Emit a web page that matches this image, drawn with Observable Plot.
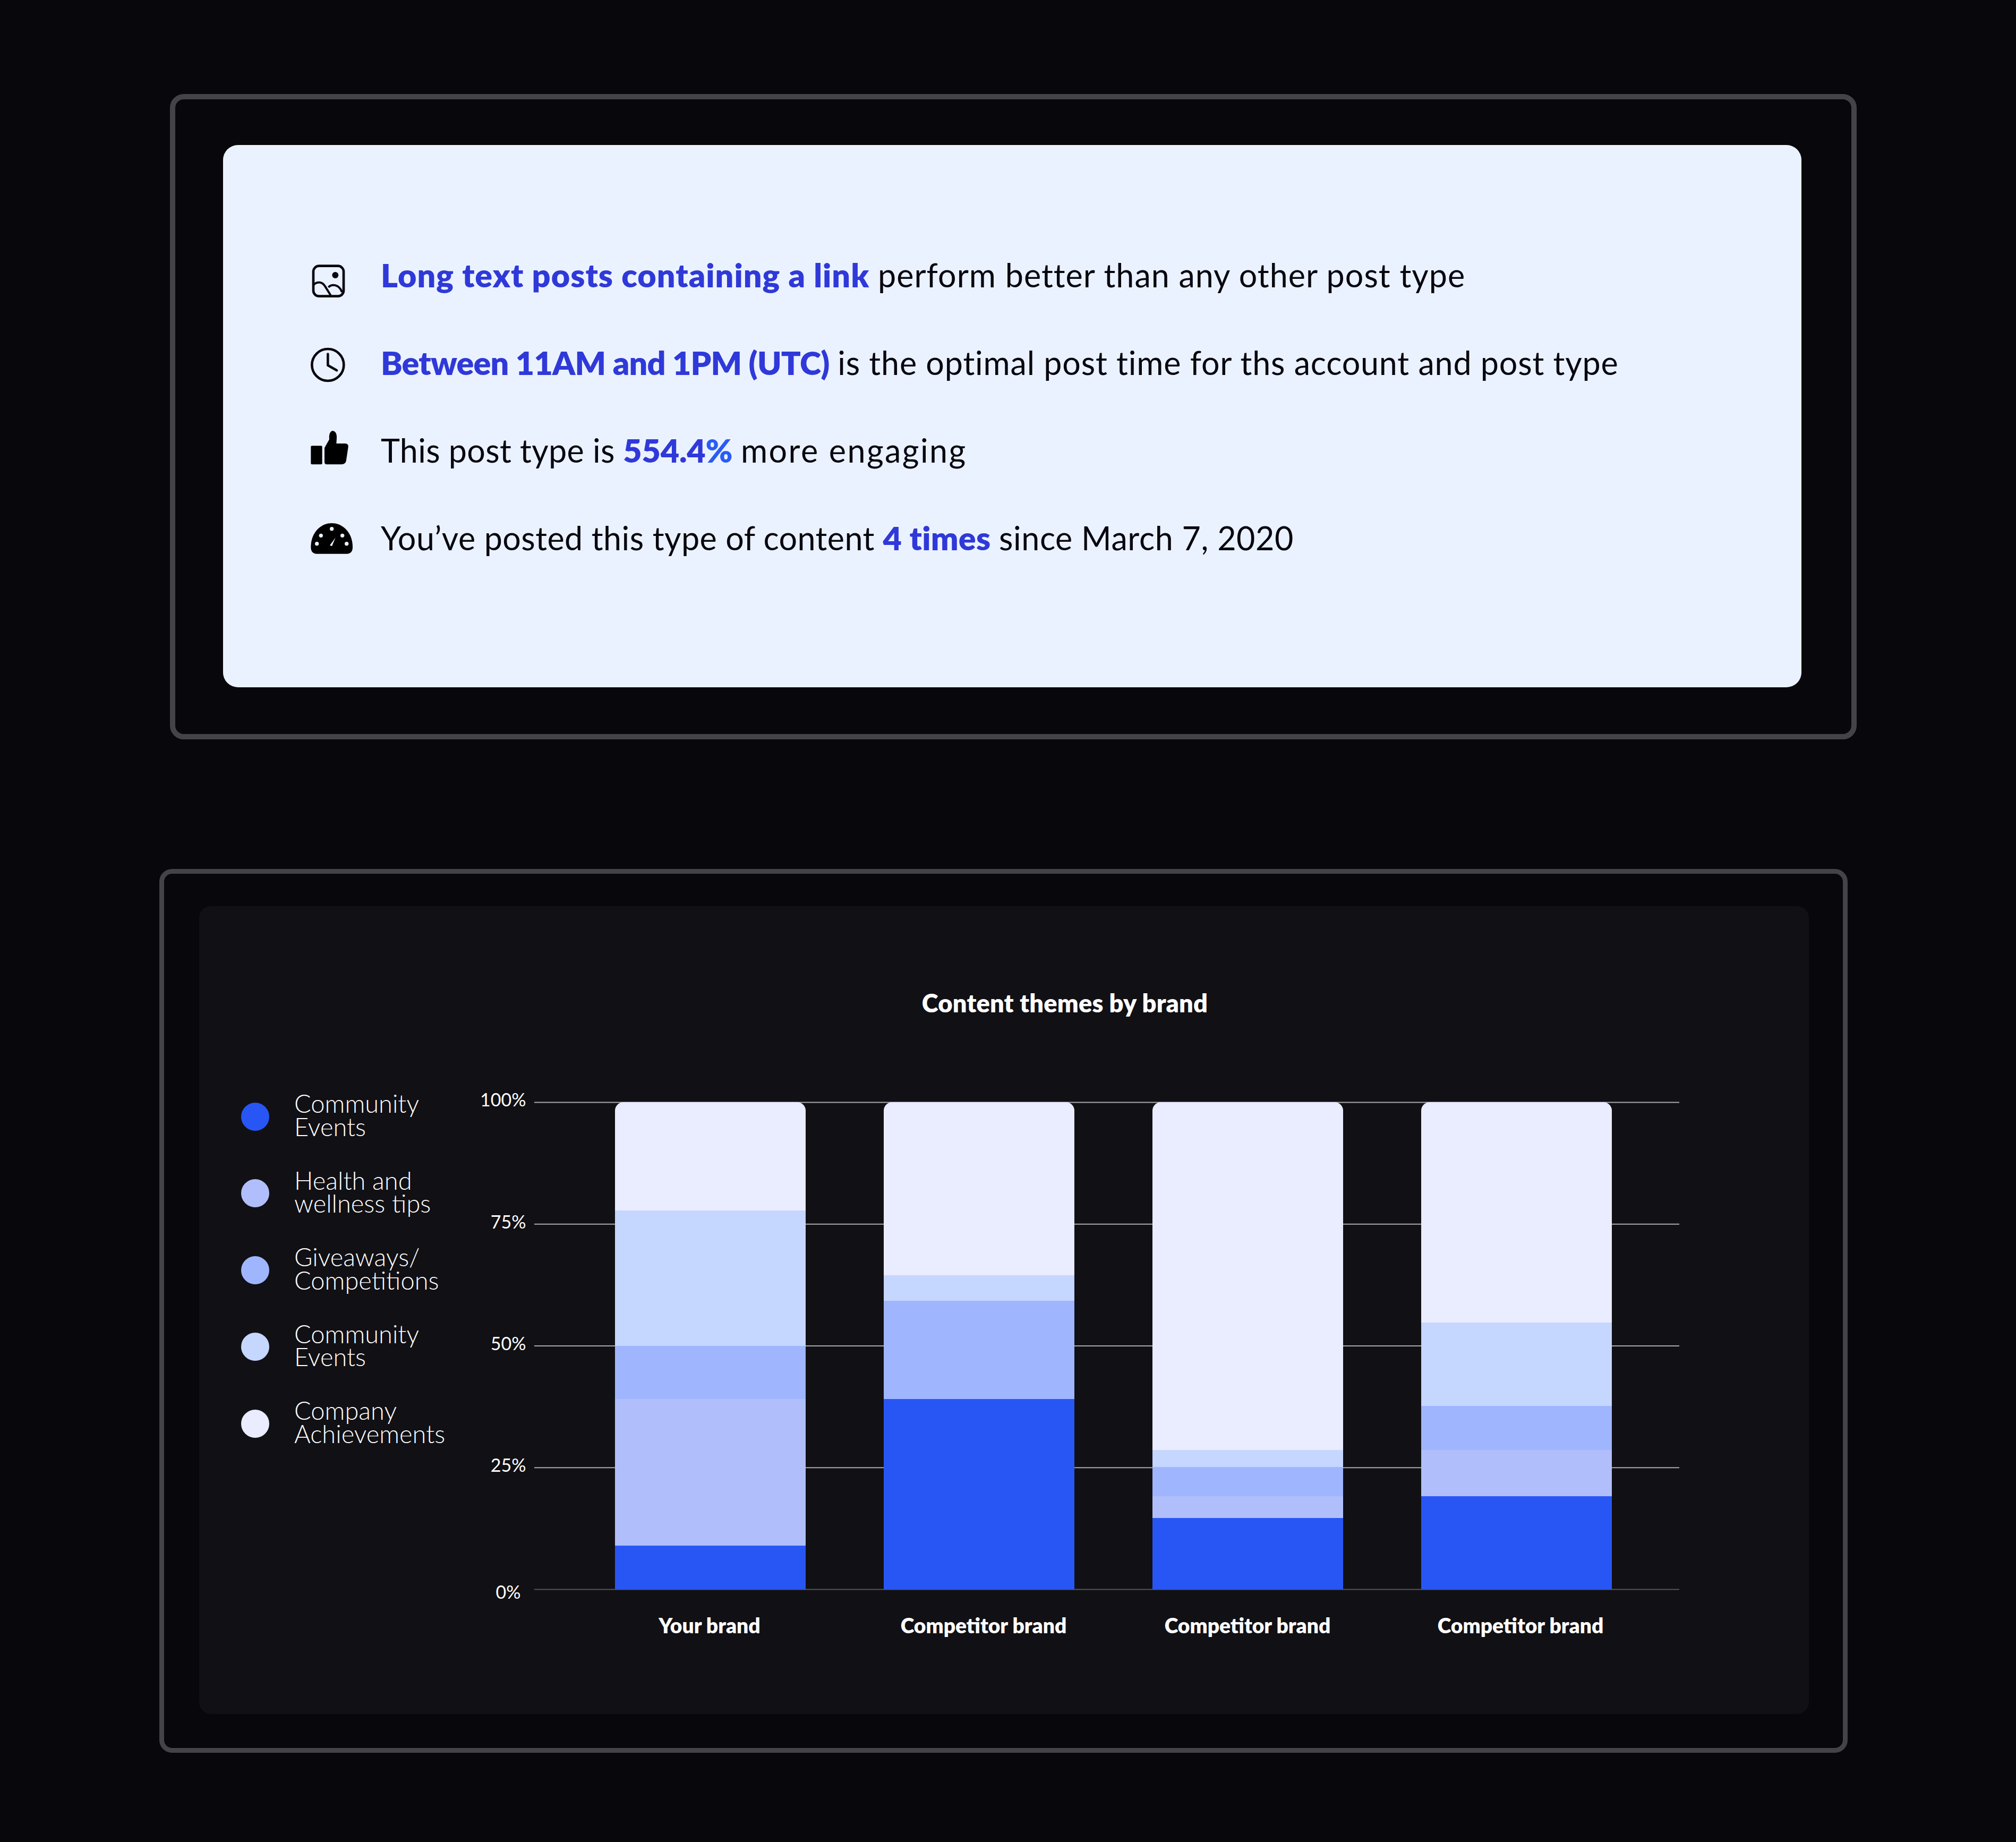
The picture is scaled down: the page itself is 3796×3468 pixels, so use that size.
<!DOCTYPE html>
<html><head><meta charset="utf-8">
<script src="https://cdn.jsdelivr.net/npm/d3@7"></script>
<script src="https://cdn.jsdelivr.net/npm/@observablehq/plot@0.6"></script>
<style>
html,body{margin:0;padding:0;background:#08070b;width:3796px;height:3468px;overflow:hidden;font-family:Lato,sans-serif}
.abs{position:absolute;box-sizing:border-box}
.ins{white-space:nowrap;font-size:61px;line-height:80px;color:#07070f;left:717px;font-weight:400}
.ins b{color:#2f39d9;font-weight:800}
.ins b i{font-style:normal;color:#2a5cf5}
.leg{left:554px;font-size:47px;line-height:43.5px;color:#fff;font-weight:300;white-space:pre-line}
svg.icon{position:absolute;left:560px;width:140px;height:110px}
</style></head><body>
<div class="abs" style="left:320px;top:177px;width:3176px;height:1215px;border:10px solid #444347;border-radius:26px"></div>
<div class="abs" style="left:420px;top:273px;width:2972px;height:1021px;background:#ebf2ff;border-radius:28px"></div>
<div class="abs" style="left:300px;top:1636px;width:3179px;height:1664px;border:9px solid #444347;border-radius:24px"></div>
<div class="abs" style="left:375px;top:1706px;width:3031px;height:1521px;background:#111014;border-radius:22px"></div>

<div class="abs ins" style="top:478px"><b style="letter-spacing:1.04px">Long text posts containing a link</b> <span style="letter-spacing:1.03px">perform better than any other post type</span></div>
<div class="abs ins" style="top:643px"><b style="letter-spacing:-0.8px">Between 11AM and 1PM (UTC)</b> <span style="letter-spacing:0.82px">is the optimal post time for ths account and post type</span></div>
<div class="abs ins" style="top:808px"><span style="letter-spacing:0.32px">This post type is</span> <b style="letter-spacing:-0.2px">554.4<i>%</i></b> <span style="letter-spacing:2.46px">more engaging</span></div>
<div class="abs ins" style="top:973px"><span style="letter-spacing:0.46px">You’ve posted this type of content</span> <b style="letter-spacing:0.25px">4 times</b> <span style="letter-spacing:0.6px">since March 7, 2020</span></div>

<svg class="icon" style="top:470px" viewBox="0 0 420 330"><rect x="90" y="92" width="171" height="171" rx="32" fill="none" stroke="#07070f" stroke-width="14"/><circle cx="214" cy="144" r="18" fill="#07070f"/><path d="M92 198C112 178 140 182 155 205L188 258M175 212C197 192 236 196 252 240" fill="none" stroke="#07070f" stroke-width="12"/></svg>
<svg class="icon" style="top:640px" viewBox="0 0 420 330"><circle cx="172" cy="141" r="90" fill="none" stroke="#07070f" stroke-width="14"/><path d="M172 80V143L222 172" fill="none" stroke="#07070f" stroke-width="14" stroke-linecap="round" stroke-linejoin="round"/></svg>
<svg class="icon" style="top:800px" viewBox="0 0 420 330"><rect x="76" y="118" width="64" height="105" rx="6" fill="#000"/><path d="M153 130L180 82Q176 40 198 33Q224 36 222 75L220 105L272 105Q290 108 287 125L275 205Q270 222 250 223L165 223Q153 222 153 210Z" fill="#000"/></svg>
<svg class="icon" style="top:970px" viewBox="0 0 420 330"><path d="M76 180C76 100 130 45 194 45C258 45 312 100 312 180C312 205 300 218 280 218L108 218C88 218 76 205 76 180Z" fill="#000"/><g fill="#ebf2ff"><circle cx="194" cy="77" r="11"/><circle cx="133" cy="115" r="11"/><circle cx="254" cy="115" r="11"/><circle cx="110" cy="161" r="11"/><circle cx="278" cy="161" r="11"/><path d="M215 127L183 170L195 175Z"/></g></svg>

<div class="abs" style="left:2005px;top:1860px;transform:translateX(-50%);font-size:47px;line-height:56px;font-weight:800;color:#fff;white-space:nowrap;letter-spacing:0.2px">Content themes by brand</div>
<div id="legend"></div>
<div id="chart" class="abs" style="left:880px;top:2000px"></div>

<script>
const brands = ["Your brand","Competitor brand","Competitor brand","Competitor brand"];
const seriesNames = ["Community\nEvents","Health and\nwellness tips","Giveaways/\nCompetitions","Community\nEvents","Company\nAchievements"];
const seriesColors = ["#2856f4","#b0bffb","#9fb6ff","#c5d6ff","#eaecff"];
const communityEventsA = [8.9,39.0,14.6,19.1];
const healthWellness   = [30.1,0,4.5,9.5];
const giveaways        = [11.0,20.2,6.0,9.0];
const communityEventsB = [27.8,5.2,3.5,17.1];
const achievements     = [22.2,35.6,71.4,45.3];
const yTicks = [0,25,50,75,100];

const allSeries = [communityEventsA,healthWellness,giveaways,communityEventsB,achievements];
const rows = [];
brands.forEach((b,i)=>{
  let acc = 0;
  allSeries.forEach((vals,s)=>{
    rows.push({brand:i,series:s,y1:acc,y2:acc+vals[i]});
    acc += vals[i];
  });
});

// legend
const legend = document.getElementById("legend");
seriesNames.forEach((name,i)=>{
  const top = 2102 + i*144.5;
  const dot = document.createElement("div");
  dot.className="abs";
  dot.style.cssText=`left:453.5px;top:${top-26.5}px;width:53px;height:53px;border-radius:50%;background:${seriesColors[i]}`;
  const t = document.createElement("div");
  t.className="abs leg";
  t.style.top=(top-46)+"px";
  t.textContent=name;
  legend.append(dot,t);
});

const tickFont = {fontSize:34, fontWeight:400, fill:"#fff"};
const chart = Plot.plot({
  width:2320, height:1120,
  marginLeft:126, marginRight:38, marginTop:75, marginBottom:128,
  style:{background:"transparent",fontFamily:"Lato,sans-serif",color:"#fff"},
  x:{domain:d3.range(brands.length),paddingInner:0.29,paddingOuter:0.274,align:0.544,axis:null},
  y:{domain:[0,100],axis:null},
  color:{type:"ordinal",domain:d3.range(seriesNames.length),range:seriesColors},
  marks:[
    Plot.ruleY(yTicks.filter(d=>d>0),{stroke:"#a9a9ad",strokeWidth:2}),
    Plot.ruleY([0],{stroke:"#55545a",strokeWidth:2}),
    // the rounded top series runs under the others, so only its top corners show
    Plot.barY(rows.filter(d=>d.series===4),{x:"brand",y1:0,y2:"y2",fill:"series",rx:16,ry:16}),
    Plot.barY(rows.filter(d=>d.series<4&&d.y2>d.y1),{x:"brand",y1:"y1",y2:"y2",fill:"series",shapeRendering:"crispEdges"}),
    Plot.axisY([25,50,75,100],{label:null,tickSize:0,tickPadding:0,dx:-16,dy:-3,tickFormat:d=>d+"%",...tickFont}),
    Plot.axisY([0],{label:null,tickSize:0,tickPadding:0,dx:-26,dy:7,tickFormat:d=>d+"%",...tickFont}),
    ...[-2,8,-1,7].map((dx,i)=>Plot.axisX([i],{label:null,tickSize:0,tickPadding:0,dy:55,dx,tickFormat:i=>brands[i],fontSize:39,fontWeight:800,fill:"#fff"}))
  ]
});
document.getElementById("chart").append(chart);
</script>
</body></html>
